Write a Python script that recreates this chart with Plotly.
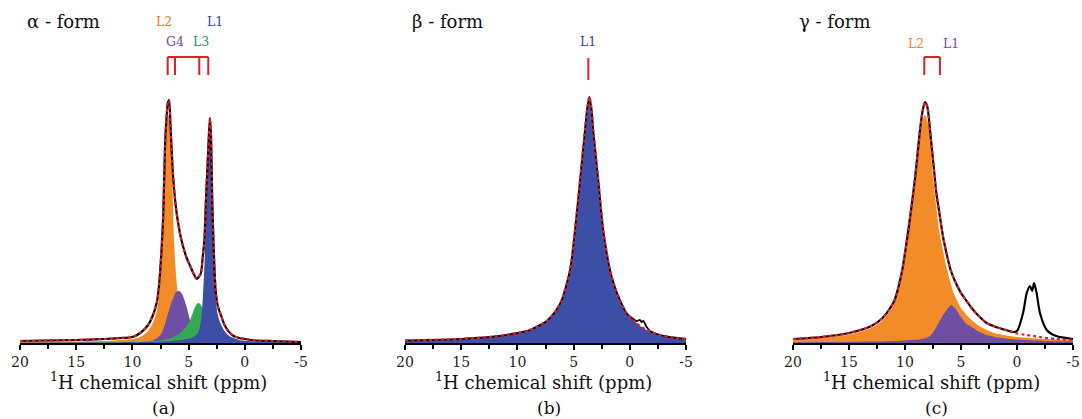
import plotly.graph_objects as go

# ---------------- data (heights in arbitrary units) ----------------
pa_ppm = [20, 17.5, 15, 12.5, 11, 10, 9.3, 8.6, 8.1, 7.8, 7.6, 7.4, 7.25, 7.1, 6.95, 6.85, 6.74, 6.6, 6.45, 6.3,
          6.1, 5.9, 5.7, 5.5, 5.2, 4.9, 4.7, 4.5, 4.28, 4.1, 3.9, 3.75, 3.6, 3.45, 3.3, 3.2, 3.1, 3.0, 2.9, 2.75,
          2.6, 2.4, 2.1, 1.8, 1.4, 1.0, 0.5, 0, -1, -2.5, -5]
pa_total = [2, 2.5, 3, 4, 5, 6, 10, 18, 30, 42, 62, 95, 130, 196, 228, 240, 243, 215, 180, 155,
            133, 118, 106, 97, 86, 78, 73, 68, 64, 66, 70, 85, 102, 145, 182, 207, 225, 205, 145, 90,
            53, 37, 27, 18, 11, 7, 5, 4, 2.5, 2, 1]
pa_fit = [2, 2.5, 3, 4, 5, 6, 10, 18, 30, 42, 62, 95, 130, 196, 228, 240, 243, 215, 180, 155,
          133, 118, 106, 97, 86, 78, 73, 68, 64, 66, 70, 85, 102, 145, 182, 207, 225, 205, 145, 90,
          53, 37, 27, 18, 11, 7, 5, 4, 2.5, 2, 1]
pa_L2 = [1, 1.2, 1.5, 2, 3, 4, 6, 12, 22, 33, 50, 82, 115, 180, 214, 226, 228, 205, 165, 105,
         65, 45, 33, 26, 19, 14, 11, 9, 7.5, 6.5, 5.5, 5, 4.5, 4, 3.7, 3.5, 3.3, 3.1, 3, 2.8,
         2.6, 2.4, 2.1, 1.9, 1.7, 1.5, 1.3, 1.2, 1, 0.8, 0.6]
pa_G4 = [0, 0, 0, 0, 0, 0, 0, 1, 3, 5, 7, 10, 14, 19, 25, 29, 33, 38, 43, 47,
         51, 52, 51, 47, 37, 24, 15, 8, 4, 2, 1, 0.3, 0, 0, 0, 0, 0, 0, 0, 0,
         0, 0, 0, 0, 0, 0, 0, 0, 0, 0, 0]
pa_L3 = [0.2, 0.2, 0.3, 0.4, 0.6, 0.8, 1, 1.4, 2, 2.3, 2.5, 2.8, 3.1, 3.4, 3.7, 4, 4.3, 4.8, 5.4, 6.2,
         7.5, 8.8, 10.5, 12.8, 16.5, 22, 28, 34, 39, 40, 38, 34, 29, 24, 20, 17, 15, 13, 11.5, 10,
         8.5, 7, 5.3, 4.2, 3.2, 2.5, 1.8, 1.4, 0.9, 0.5, 0.3]
pa_L1 = [0.3, 0.35, 0.4, 0.5, 0.6, 0.7, 0.8, 0.9, 1, 1.1, 1.2, 1.3, 1.4, 1.5, 1.6, 1.7, 1.8, 1.9, 2, 2.2,
         2.4, 2.7, 3, 3.3, 3.9, 4.7, 5.5, 6.6, 8.5, 12, 22, 42, 75, 125, 168, 198, 220, 195, 135, 80,
         45, 28, 18, 12, 7, 5, 3, 2.3, 1.5, 1, 0.5]

pb_ppm = [20, 17.5, 15, 12.5, 10, 8.9, 7.4, 6.6, 6.06, 5.32, 4.88, 4.43, 3.99, 3.8, 3.6, 3.4, 3.25, 2.8,
          2.36, 1.76, 1.3, 0.87, 0.3, -0.31, -0.6, -0.91, -1.05, -1.2, -1.5, -1.8, -2.4, -3.5, -5]
pb_total = [2.5, 3.2, 4.2, 6, 10, 13, 22, 32, 43, 73, 113, 163, 213, 234, 246, 234, 213, 163,
            113, 73, 55, 43, 30, 24, 22, 23, 21, 22, 16, 12, 9, 6, 4]
pb_fit = [2.5, 3.2, 4.2, 6, 10, 13, 22, 32, 43, 73, 113, 163, 213, 234, 246, 234, 213, 163,
          113, 73, 55, 43, 30, 23, 20, 17, 16, 15, 13, 11.5, 9, 6, 4]
pb_L1 = [2.5, 3.2, 4.2, 6, 10, 13, 22, 32, 43, 73, 113, 163, 213, 234, 246, 234, 213, 163,
         113, 73, 55, 43, 30, 23, 20, 17, 16, 15, 13, 11.5, 9, 6, 4]

pc_ppm = [20, 17.5, 15, 13, 12, 11, 10.3, 9.7, 9.1, 8.66, 8.4, 8.21, 8.0, 7.77, 7.47, 7.2, 6.96, 6.6, 6.34,
          6.0, 5.83, 5.54, 5.0, 4.5, 4.05, 3.5, 2.71, 2.0, 1.0, 0.33, 0, -0.54, -0.87, -1.16, -1.35, -1.52,
          -1.75, -2.05, -2.65, -3.5, -5]
pc_total = [4, 6, 10, 17, 25, 41, 70, 113, 165, 213, 234, 241, 236, 213, 180, 150, 132, 106, 92,
            76, 70, 62, 50, 42, 35, 28, 20, 16.5, 13, 11, 12, 30, 50, 57, 52, 60,
            50, 30, 13, 7, 4]
pc_fit = [4, 6, 10, 17, 25, 41, 70, 113, 165, 213, 234, 241, 236, 213, 180, 150, 132, 106, 92,
          76, 70, 62, 50, 42, 35, 28, 20, 16.5, 13, 10.5, 9.5, 8.5, 8, 7.5, 7, 6.8,
          6.5, 6, 5, 4, 3]
pc_L2 = [3, 5, 8.5, 15, 22.5, 38, 66, 108, 158, 205, 224, 228, 222, 204, 163, 136, 113, 92, 78,
         63, 56, 47, 35, 28, 23, 18, 13, 10, 7.5, 6.5, 6, 5.5, 5.2, 5, 4.8, 4.7,
         4.5, 4.3, 4, 3.5, 3]
pc_L1 = [0.7, 0.9, 1.1, 1.4, 1.6, 2, 2.3, 2.7, 3.2, 3.8, 4.3, 4.8, 5.5, 7, 11, 16, 21, 28, 32,
         37, 38, 35, 26, 19, 16, 12, 8, 6, 4.5, 3.8, 3.5, 3.1, 2.9, 2.7, 2.6, 2.5,
         2.4, 2.3, 2, 1.8, 1.5]

tick_vals = [20, 15, 10, 5, 0, -5]
tick_text = ["20", "15", "10", "5", "0", "-5"]
panel_titles = ["α - form", "β - form", "γ - form"]
panel_tags = ["(a)", "(b)", "(c)"]
pa_marks = [6.86, 6.21, 4.05, 3.25]
pb_marks = [3.69]
pc_marks = [8.28, 6.88]

# ---------------- styling ----------------
W, H = 1082, 419
ORANGE = "#F28C28"
PURPLE = "#6E4FA3"
GREEN = "#36A852"
BLUE = "#3C4EA6"
RED = "#E41E26"
SERIF = "DejaVu Serif"

x_px = [(20, 301), (405, 686), (793, 1073)]
y_base_px, y_top_px = 343, 10
YR = [0, y_base_px - y_top_px]


def py(p):
    return (H - p) / H


def px(p):
    return p / W


fig = go.Figure()
axes = [("x", "y"), ("x2", "y2"), ("x3", "y3")]


def fill(x, y, color, ax):
    fig.add_trace(go.Scatter(x=x, y=y, mode="lines", fill="tozeroy", fillcolor=color,
                             line=dict(width=0, shape="spline", smoothing=0.7, color=color),
                             xaxis=ax[0], yaxis=ax[1], hoverinfo="skip", showlegend=False))


def line(x, y, color, dash, width, ax):
    fig.add_trace(go.Scatter(x=x, y=y, mode="lines",
                             line=dict(width=width, shape="spline", smoothing=0.7, color=color, dash=dash),
                             xaxis=ax[0], yaxis=ax[1], hoverinfo="skip", showlegend=False))


fill(pa_ppm, pa_L2, ORANGE, axes[0])
fill(pa_ppm, pa_G4, PURPLE, axes[0])
fill(pa_ppm, pa_L3, GREEN, axes[0])
fill(pa_ppm, pa_L1, BLUE, axes[0])
line(pa_ppm, pa_total, "black", "solid", 2.2, axes[0])
line(pa_ppm, pa_fit, RED, "3px,3px", 2.2, axes[0])
fill(pb_ppm, pb_L1, BLUE, axes[1])
line(pb_ppm, pb_total, "black", "solid", 1.8, axes[1])
line(pb_ppm, pb_fit, RED, "3px,3px", 2.2, axes[1])
fill(pc_ppm, pc_L2, ORANGE, axes[2])
fill(pc_ppm, pc_L1, PURPLE, axes[2])
line(pc_ppm, pc_total, "black", "solid", 2.2, axes[2])
line(pc_ppm, pc_fit, RED, "3px,3px", 2.2, axes[2])

layout = dict(width=W, height=H, autosize=False, margin=dict(l=0, r=0, t=0, b=0, pad=0, autoexpand=False),
              paper_bgcolor="white", plot_bgcolor="white", showlegend=False)
for i, (x0, x1) in enumerate(x_px):
    sfx = "" if i == 0 else str(i + 1)
    layout["xaxis" + sfx] = dict(domain=[px(x0), px(x1)], range=[20, -5], anchor="y" + sfx,
                                 automargin=False,
                                 showgrid=False, zeroline=False, showline=True, linecolor="black",
                                 linewidth=1.5, ticks="outside", ticklen=5, tickwidth=1.5,
                                 tickcolor="black", tickvals=tick_vals, ticktext=tick_text,
                                 tickfont=dict(family=SERIF, size=14, color="#222"),
                                 minor=dict(dtick=2.5, tick0=0, ticks="outside", ticklen=4,
                                            tickwidth=1.5, tickcolor="black"),
                                 fixedrange=True)
    layout["yaxis" + sfx] = dict(domain=[py(y_base_px), py(y_top_px)], range=YR, visible=False,
                                 automargin=False, anchor="x" + sfx, fixedrange=True)
fig.update_layout(**layout)

ann = []
title_x = [25, 410, 797]
for i, (x0, x1) in enumerate(x_px):
    ann.append(dict(text=panel_titles[i], x=px(title_x[i]), y=py(21), xref="paper", yref="paper",
                    xanchor="left", yanchor="middle", showarrow=False,
                    font=dict(family=SERIF, size=18, color="#111")))
    cx = (x0 + x1) / 2 - 2
    ann.append(dict(text="<sup>1</sup>H chemical shift (ppm)", x=px(cx), y=py(381), xref="paper",
                    yref="paper", xanchor="center", yanchor="middle", showarrow=False,
                    font=dict(family=SERIF, size=18, color="#111")))
    ann.append(dict(text=panel_tags[i], x=px(cx + 5), y=py(408), xref="paper", yref="paper",
                    xanchor="center", yanchor="middle", showarrow=False,
                    font=dict(family=SERIF, size=17, color="#111")))


def peak_label(text, xpix, ypix, color):
    ann.append(dict(text=text, x=px(xpix), y=py(ypix), xref="paper", yref="paper", xanchor="center",
                    yanchor="middle", showarrow=False, font=dict(family=SERIF, size=12.5, color=color)))


peak_label("L2", 164, 22, "#E8782E")
peak_label("L1", 215, 22, "#3B3FA0")
peak_label("G4", 175, 42, "#7A4AA8")
peak_label("L3", 201, 42, "#2C8C7C")
peak_label("L1", 588, 42, "#3B3FA0")
peak_label("L2", 916, 44, "#E8823A")
peak_label("L1", 951, 44, "#7A4AB0")
fig.update_layout(annotations=ann)

shapes = []
yb_top = y_base_px - 57
yb_bot = y_base_px - 75


def bracket(marks, ax):
    for m in marks:
        shapes.append(dict(type="line", xref=ax[0], yref=ax[1], x0=m, x1=m, y0=yb_bot, y1=yb_top,
                           line=dict(color=RED, width=2)))
    if len(marks) > 1:
        shapes.append(dict(type="line", xref=ax[0], yref=ax[1], x0=max(marks), x1=min(marks),
                           y0=yb_top, y1=yb_top, line=dict(color=RED, width=2)))


bracket(pa_marks, axes[0])
bracket(pc_marks, axes[2])
shapes.append(dict(type="line", xref="x2", yref="y2", x0=pb_marks[0], x1=pb_marks[0],
                   y0=y_base_px - 80, y1=y_base_px - 58, line=dict(color=RED, width=2)))
fig.update_layout(shapes=shapes)

fig.write_html("out.html")
